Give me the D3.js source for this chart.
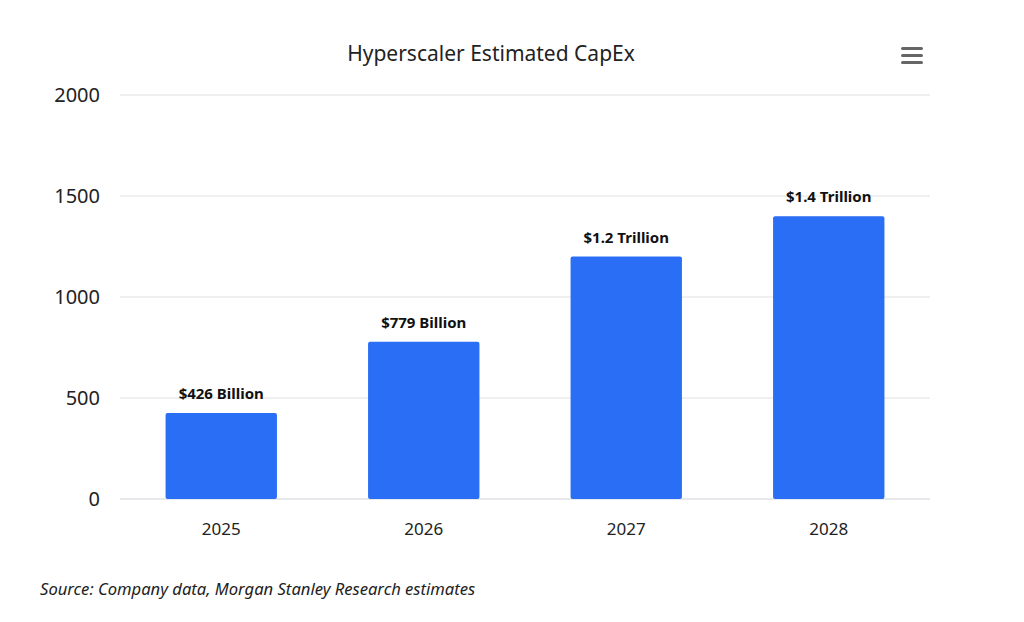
<!DOCTYPE html>
<html>
<head>
<meta charset="utf-8">
<script src="https://cdn.jsdelivr.net/npm/d3@7"></script>
<style>
  body { margin: 0; background: #fff; }
  text { font-family: "Noto Sans", "Open Sans", sans-serif; }
</style>
</head>
<body>
<div id="chart"></div>
<script>
// chart data
var years = ['2025', '2026', '2027', '2028'];
var capex = [426, 779, 1200, 1400];
var barLabels = ['$426 Billion', '$779 Billion', '$1.2 Trillion', '$1.4 Trillion'];
var yTicks = [0, 500, 1000, 1500, 2000];

var width = 1024, height = 622;
var margin = { top: 95, right: 94, bottom: 123, left: 120 };

var svg = d3.select('#chart').append('svg')
  .attr('width', width).attr('height', height);

var x = d3.scaleBand().domain(years)
  .range([margin.left, width - margin.right])
  .paddingInner(0.45).paddingOuter(0.225);

var y = d3.scaleLinear().domain([0, 2000])
  .range([height - margin.bottom, margin.top]);

// gridlines
svg.append('g').selectAll('line').data(yTicks).enter().append('line')
  .attr('x1', margin.left).attr('x2', width - margin.right)
  .attr('y1', function(d) { return y(d); }).attr('y2', function(d) { return y(d); })
  .attr('stroke', function(d) { return d === 0 ? '#cfd3d8' : '#e0e0e0'; })
  .attr('stroke-width', 1);

// y axis labels
var yAxis = d3.axisLeft(y).tickValues(yTicks).tickSize(0).tickPadding(20)
  .tickFormat(d3.format('d'));
svg.append('g').attr('transform', 'translate(' + margin.left + ',0)')
  .call(yAxis)
  .call(function(g) { g.select('.domain').remove(); })
  .selectAll('text')
  .style('font-family', '"Noto Sans", sans-serif')
  .style('font-size', '20px').attr('fill', '#222');

// x axis labels
var xAxis = d3.axisBottom(x).tickSize(0).tickPadding(24);
svg.append('g').attr('transform', 'translate(0,' + y(0) + ')')
  .call(xAxis)
  .call(function(g) { g.select('.domain').remove(); })
  .selectAll('text')
  .style('font-family', '"Noto Sans", sans-serif')
  .style('font-size', '17px').attr('fill', '#222');

// bars
svg.append('g').selectAll('rect').data(capex).enter().append('rect')
  .attr('x', function(d, i) { return x(years[i]); })
  .attr('y', function(d) { return y(d); })
  .attr('width', x.bandwidth())
  .attr('height', function(d) { return y(0) - y(d); })
  .attr('rx', 2)
  .attr('fill', '#2a6ef5');

// value labels
svg.append('g').selectAll('text').data(capex).enter().append('text')
  .attr('x', function(d, i) { return x(years[i]) + x.bandwidth() / 2; })
  .attr('y', function(d) { return y(d) - 14; })
  .attr('text-anchor', 'middle')
  .attr('font-size', '15px').attr('font-weight', 'bold')
  .attr('fill', '#111')
  .text(function(d, i) { return barLabels[i]; });

// title
svg.append('text').attr('x', 491).attr('y', 61)
  .attr('text-anchor', 'middle').attr('font-size', '21px').attr('fill', '#222')
  .text('Hyperscaler Estimated CapEx');

// menu icon
svg.append('g').selectAll('rect').data([0, 1, 2]).enter().append('rect')
  .attr('x', 901).attr('y', function(d) { return 47 + d * 7; })
  .attr('width', 22).attr('height', 3).attr('rx', 1.5)
  .attr('fill', '#666');

// source note
svg.append('text').attr('x', 40).attr('y', 595)
  .attr('font-size', '16.6px').attr('font-style', 'italic').attr('fill', '#222')
  .text('Source: Company data, Morgan Stanley Research estimates');
</script>
</body>
</html>
